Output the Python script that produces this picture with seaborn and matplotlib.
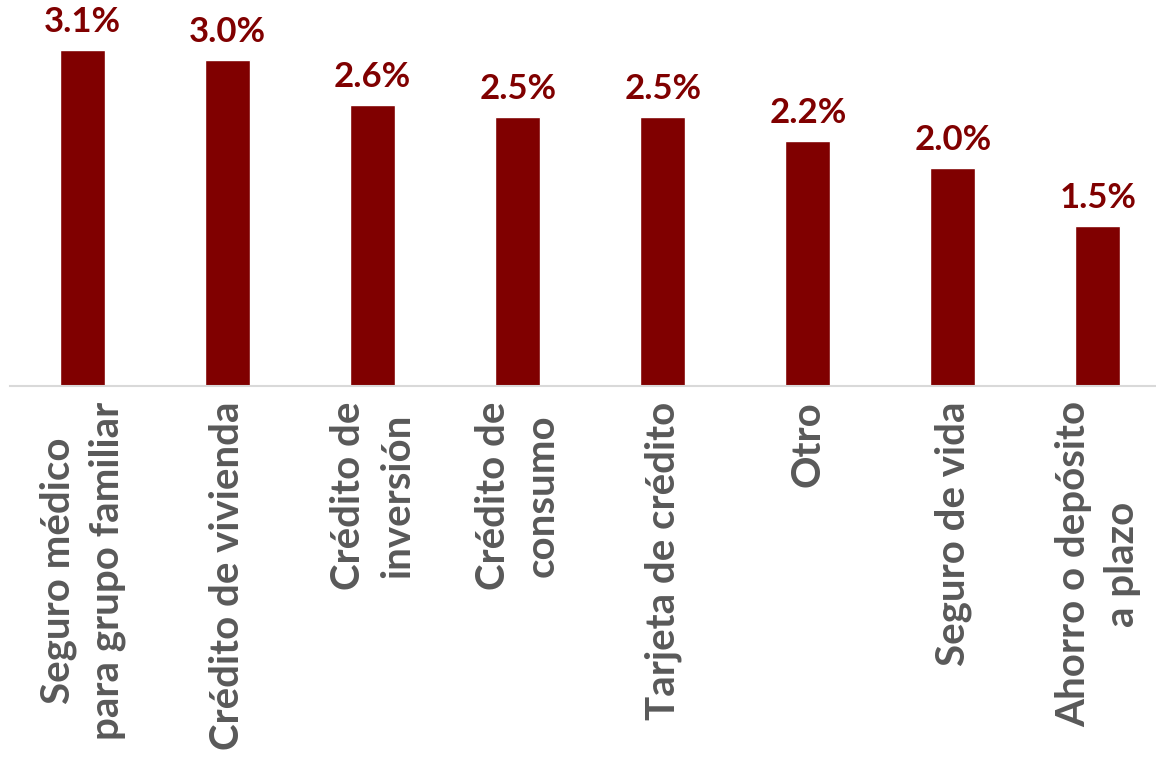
import numpy as np
import pandas as pd
import seaborn as sns
import matplotlib.pyplot as plt

categories = ["Seguro médico\npara grupo familiar", "Crédito de vivienda",
              "Crédito de\ninversión", "Crédito de\nconsumo", "Tarjeta de crédito",
              "Otro", "Seguro de vida", "Ahorro o depósito\na plazo"]
values = [3.07, 2.98, 2.57, 2.46, 2.46, 2.24, 1.99, 1.46]

sns.set_style("white")
plt.rcParams['font.family'] = ['Lato', 'DejaVu Sans']

data = pd.DataFrame({"producto": categories, "valor": values})

fig = plt.figure(figsize=(11.56, 7.57), dpi=100)
ax = fig.add_axes([10 / 1156, 371 / 757, 1146 / 1156, 386 / 757])
sns.barplot(data=data, x="producto", y="valor", color="#800000",
            saturation=1, width=0.31, ax=ax)

for i, v in enumerate(values):
    ax.text(i, v + 0.11, f"{v:.1f}%", ha="center", va="bottom",
            fontsize=25, fontweight="bold", color="#800000")

ax.set_xlim(-0.5, 7.4)
ax.set_ylim(0, 3.53)
ax.set_xlabel("")
ax.set_ylabel("")
ax.set_yticks([])
for s in ["top", "right", "left"]:
    ax.spines[s].set_visible(False)
ax.spines["bottom"].set_color("#d9d9d9")
ax.spines["bottom"].set_linewidth(1.5)
ax.tick_params(axis="x", length=0, pad=11)
plt.xticks(rotation=90, fontsize=29, fontweight="bold", color="#595959",
           ha="center", va="top", multialignment="center", linespacing=1.4)

fig.savefig("out.png", dpi=100)
